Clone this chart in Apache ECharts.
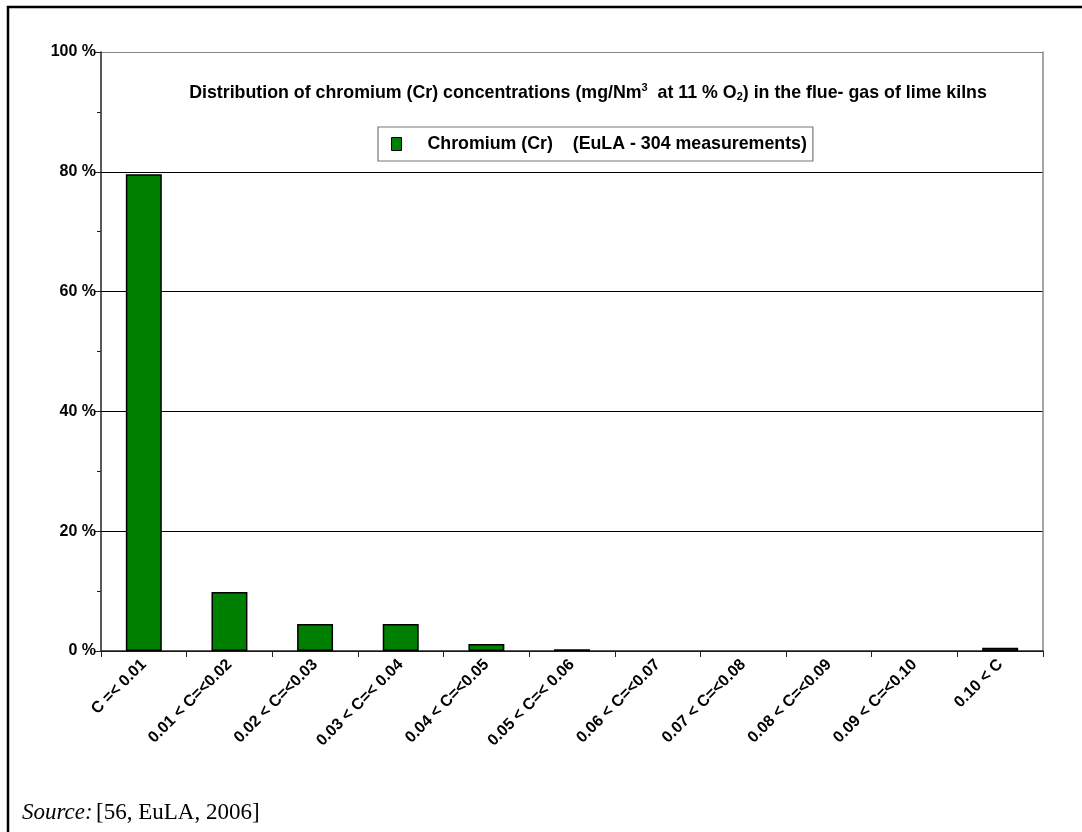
<!DOCTYPE html>
<html>
<head>
<meta charset="utf-8">
<script src="https://cdn.jsdelivr.net/npm/echarts@6/dist/echarts.min.js"></script>
<style>html,body{margin:0;padding:0;background:#fff}#c{width:1082px;height:832px}</style>
</head>
<body>
<div id="c"></div>
<script>
const categories = ['C =< 0.01','0.01 < C=<0.02','0.02 < C=<0.03','0.03 < C=< 0.04','0.04 < C=<0.05','0.05 < C=< 0.06','0.06 < C=<0.07','0.07 < C=<0.08','0.08 < C=<0.09','0.09 < C=<0.10','0.10 < C'];
const crValues = [79.6, 9.85, 4.5, 4.5, 1.15, 0.3, 0, 0, 0, 0, 0.55];
const seriesName = 'Chromium (Cr)    (EuLA - 304 measurements)';
const yTicks = [0, 20, 40, 60, 80, 100];

const chart = echarts.init(document.getElementById('c'), null, {renderer: 'canvas'});
const F = '"Liberation Sans", Arial, sans-serif';
const S = '"Liberation Serif", "Times New Roman", serif';
chart.setOption({
  animation: false,
  backgroundColor: '#fff',
  textStyle: {fontFamily: F},
  grid: {left: 101, right: 39, top: 52, bottom: 181, containLabel: false},
  title: {
    text: '{t|Distribution of chromium (Cr) concentrations (mg/Nm}{sup|3}{t|  at 11 % O}{sub|2}{t|) in the flue- gas of lime kilns}',
    left: 588, top: 82, textAlign: 'center', padding: 0,
    textStyle: {
      rich: {
        t: {fontFamily: F, fontWeight: 'bold', fontSize: 17.8, color: '#000', lineHeight: 22},
        sup: {fontFamily: F, fontWeight: 'bold', fontSize: 11, color: '#000', padding: [0,0,10,0], lineHeight: 22},
        sub: {fontFamily: F, fontWeight: 'bold', fontSize: 11, color: '#000', padding: [8,0,0,0], lineHeight: 22}
      }
    }
  },
  legend: {
    left: 378, top: 127,
    data: [{name: seriesName, icon: 'rect'}],
    itemWidth: 10, itemHeight: 13,
    padding: [7, 6, 7, 13],
    borderColor: '#777', borderWidth: 1.2,
    textStyle: {fontFamily: F, fontWeight: 'bold', fontSize: 17.8, color: '#000', padding: [0,0,0,21], lineHeight: 20},
    itemStyle: {borderColor: '#000', borderWidth: 1}
  },
  xAxis: {
    type: 'category',
    data: categories,
    boundaryGap: true,
    axisLine: {lineStyle: {color: '#222', width: 1.5}},
    axisTick: {show: true, alignWithLabel: false, length: 6, lineStyle: {color: '#222'}},
    axisLabel: {rotate: 45, interval: 0, fontFamily: F, fontWeight: 'bold', fontSize: 16, color: '#000', margin: 11}
  },
  yAxis: [{
    type: 'value', min: 0, max: 100, interval: 20,
    axisLine: {show: true, lineStyle: {color: '#222', width: 1.5}},
    axisTick: {show: true, length: 6, lineStyle: {color: '#222'}},
    minorTick: {show: true, splitNumber: 2, length: 4, lineStyle: {color: '#222'}},
    axisLabel: {formatter: v => v + ' %', fontFamily: F, fontWeight: 'bold', fontSize: 16, color: '#000', margin: 5},
    splitLine: {show: true, lineStyle: {color: ['#000','#000','#000','#000','#000','#888'], width: 1}}
  }, {
    type: 'value', min: 0, max: 100, interval: 20, position: 'right',
    axisLine: {show: true, lineStyle: {color: '#888', width: 1.5}},
    axisTick: {show: false}, axisLabel: {show: false}, splitLine: {show: false}
  }],
  series: [{
    name: seriesName,
    type: 'bar',
    data: crValues.map(v => v > 0 ? v : {value: v, itemStyle: {borderWidth: 0, opacity: 0}}),
    barWidth: '42%',
    itemStyle: {color: '#008000', borderColor: '#000', borderWidth: 1.5}
  }],
  graphic: [
    {type: 'rect', shape: {x: 8, y: 7, width: 1200, height: 1000}, style: {fill: null, stroke: '#000', lineWidth: 2.5}, silent: true},
    {type: 'text', left: 22, top: 801, style: {
      text: '{i|Source:} {n|[56, EuLA, 2006]}',
      rich: {
        i: {fontFamily: S, fontStyle: 'italic', fontSize: 23, fill: '#000'},
        n: {fontFamily: S, fontSize: 23, fill: '#000'}
      }
    }}
  ]
});
</script>
</body>
</html>
